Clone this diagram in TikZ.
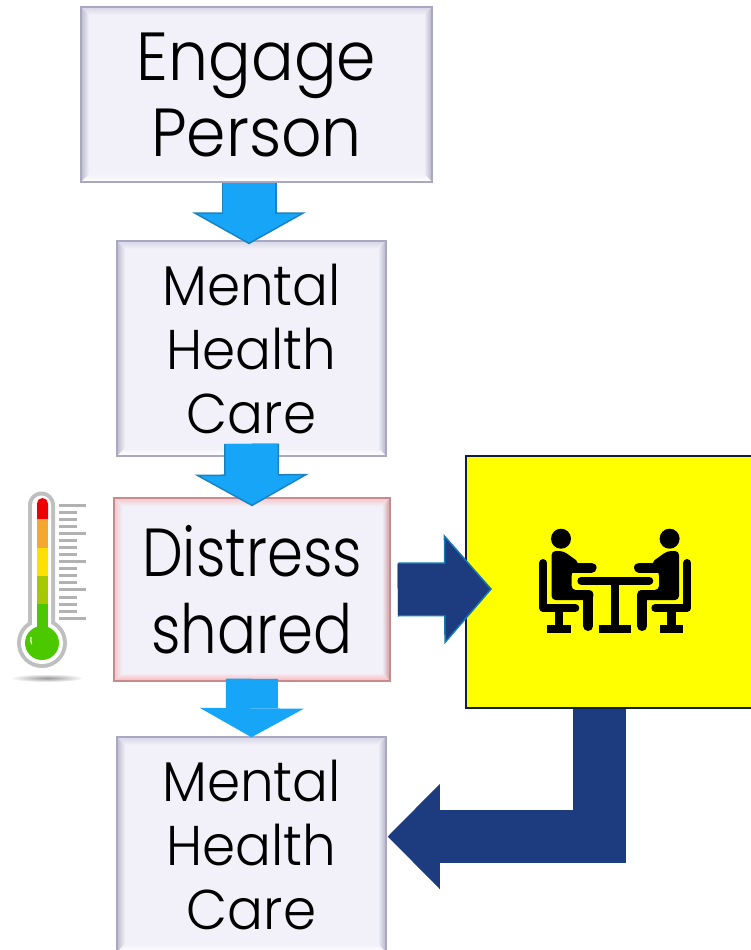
\documentclass[tikz,border=0pt]{standalone}
\usepackage{fontspec}
\setmainfont{Poppins Light}
\newfontfamily\engagefont[FakeStretch=0.93]{Poppins Light}
\newfontfamily\distressfont[FakeStretch=0.85]{Poppins Light}
\newfontfamily\carefont[FakeStretch=0.95]{Poppins Light}
\usetikzlibrary{arrows.meta}
\definecolor{lightblue}{HTML}{17A5F8}
\definecolor{lightedge}{HTML}{1A82C0}
\definecolor{darkblue}{HTML}{1D3C7F}
\definecolor{darkedge}{HTML}{1479B3}
\definecolor{boxfill}{HTML}{F2F0F8}
\definecolor{boxedge}{HTML}{A9A8C0}
\definecolor{boxtop}{HTML}{D6D5E6}
\definecolor{boxleft}{HTML}{BDBCCE}
\definecolor{boxright}{HTML}{B4B3C8}
\definecolor{boxbottom}{HTML}{FFFFFF}
\definecolor{redtop}{HTML}{F4C6CA}
\definecolor{redleft}{HTML}{F2C4C8}
\definecolor{redright}{HTML}{D09A9E}
\definecolor{redbottom}{HTML}{FFB4B4}
\definecolor{rededge}{HTML}{C88A8C}
\definecolor{meetingedge}{HTML}{101F40}
\definecolor{meetingfill}{HTML}{FFFF00}
\definecolor{thermored}{HTML}{EE0000}
\definecolor{thermoorange}{HTML}{F5A830}
\definecolor{thermoyellow}{HTML}{FFDF00}
\definecolor{thermolime}{HTML}{A6C800}
\definecolor{thermogreen}{HTML}{4CC800}
\tikzset{
  bevel/.style n args={4}{path picture={
    \coordinate (nw) at (path picture bounding box.north west);
    \coordinate (ne) at (path picture bounding box.north east);
    \coordinate (sw) at (path picture bounding box.south west);
    \coordinate (se) at (path picture bounding box.south east);
    \shade [top color=#1, bottom color=boxfill] (nw) -- (ne) -- ([shift={(-8,-8)}]ne) -- ([shift={(8,-8)}]nw) -- cycle;
    \shade [left color=#2, right color=boxfill] (nw) -- (sw) -- ([shift={(8,8)}]sw) -- ([shift={(8,-8)}]nw) -- cycle;
    \shade [right color=#3, left color=boxfill] (ne) -- (se) -- ([shift={(-8,8)}]se) -- ([shift={(-8,-8)}]ne) -- cycle;
    \shade [bottom color=#4, top color=boxfill] (sw) -- (se) -- ([shift={(-8,8)}]se) -- ([shift={(8,8)}]sw) -- cycle;
  }},
  graybox/.style={draw=boxedge, line width=1.5pt, fill=boxfill, align=center,
    bevel={boxtop}{boxleft}{boxright}{boxbottom}},
  redbox/.style={draw=rededge, line width=1.5pt, fill=boxfill, align=center,
    bevel={redtop}{redleft}{redright}{redbottom}},
  engagetext/.style={font=\engagefont\fontsize{68}{76}\selectfont},
  distresstext/.style={font=\distressfont\fontsize{68}{77}\selectfont},
  caretext/.style={font=\carefont\fontsize{56}{64}\selectfont},
  lightarrow/.style={draw=lightedge, line width=55pt,
    -{Triangle[width=114pt,length=32pt,line width=1.5pt,fill=lightblue]},
    postaction={draw=lightblue, line width=52pt, -, shorten >=30pt}},
  plainarrow/.style={draw=lightblue, line width=52pt,
    -{Triangle[width=104pt,length=29pt,line width=0pt,fill=lightblue]}},
  darkarrow/.style={draw=darkedge, line width=54pt,
    -{Triangle[width=110pt,length=48pt,line width=1.5pt,fill=darkblue]},
    postaction={draw=darkblue, line width=51pt, -, shorten >=46pt}},
  bentarrow/.style={draw=darkblue, line width=53pt, line join=miter,
    -{Triangle[width=105pt,length=52pt,line width=0pt,fill=darkblue]}},
  scaletick/.style={draw=gray!60, line width=3pt},
}
\begin{document}
\begin{tikzpicture}[x=1pt,y=1pt]
\tikzstyle{every node}+=[inner sep=0pt]
\clip [use as bounding box] (0,0) rectangle (751,-950);
\node (engage) [graybox, engagetext, minimum width=351pt, minimum height=175pt] at (256.5,-94.5) {Engage\\Person};
\node (mhone) [graybox, caretext, minimum width=269pt, minimum height=215pt] at (251.5,-348.5) {Mental\\Health\\Care};
\node (distress) [redbox, distresstext, minimum width=276pt, minimum height=183pt] at (252,-589.5) {Distress\\shared};
\node (mhtwo) [graybox, caretext, minimum width=269pt, minimum height=215pt] at (251.5,-844.5) {Mental\\Health\\Care};
\node (meeting) [draw=meetingedge, line width=2pt, fill=meetingfill, minimum width=298.6pt, minimum height=252pt] at (615.3,-582) {};
\draw [lightarrow] ([xshift=-7.5pt]engage.south) -- ([xshift=-2.5pt,yshift=-4pt]mhone.north);
\draw [lightarrow] ([yshift=13pt]mhone.south) -- ([yshift=-9pt]distress.north);
\draw [plainarrow] ([yshift=3pt]distress.south) -- ([yshift=-1pt]mhtwo.north);
\draw [darkarrow] ([xshift=7pt]distress.east) -- ([xshift=27pt,yshift=-7pt]meeting.west);
\draw [bentarrow] ([xshift=-16.3pt]meeting.south) -- (599,-836.5) -- ([xshift=1pt,yshift=8pt]mhtwo.east);
% thermometer
\fill [gray!50] (28,-505) arc (180:0:13.5) -- (55,-625) -- (28,-625) -- cycle;
\fill [gray!50] (42,-643) circle (25);
\fill [white] (32,-505) arc (180:0:9.5) -- (51,-628) -- (32,-628) -- cycle;
\fill [white] (42,-643) circle (21);
\fill [thermored] (37,-503.5) arc (180:0:5.5) -- (48,-519) -- (37,-519) -- cycle;
\fill [thermoorange] (37,-519) rectangle (48,-548);
\fill [thermoyellow] (37,-548) rectangle (48,-576);
\fill [thermolime] (37,-576) rectangle (48,-604);
\fill [thermogreen] (37,-604) rectangle (48,-632);
\fill [thermogreen] (42,-643) circle (17);
\draw [white, line width=1.2pt] (31,-637) arc (170:200:14);
\foreach \i in {0,...,16} {
  \pgfmathsetmacro{\tickend}{mod(\i,4)==0 ? 86 : 77}
  \draw [scaletick] (59,-505-7.08*\i) -- (\tickend,-505-7.08*\i);
}
\shade [inner color=gray!80, outer color=white] (47,-678) ellipse (37 and 4);
% two people at a table
\begin{scope}[xshift=615.3pt]
\foreach \side in {1,-1} {
\begin{scope}[xscale=\side]
\fill (-54.3,-538.7) circle (10);
\draw [line width=8pt, line cap=round, line join=round] (-72,-563) -- (-72,-608) -- (-40,-608);
\fill (-60.3,-612) rectangle (-52,-625);
\fill (-68,-625) rectangle (-44.3,-632.7);
\fill [rounded corners=4pt] (-63.7,-551) -- (-52,-551) -- (-36,-562.5) -- (-43.7,-572) -- (-43.7,-590) -- (-22,-590) -- (-22,-600) -- (-63.7,-600) -- cycle;
\draw [line width=10pt, line cap=round] (-44,-567.5) -- (-23.7,-567.5);
\draw [line width=10pt, line cap=round] (-27,-595) -- (-27,-626);
\end{scope}
}
\draw [line width=8pt, line cap=round] (-34,-580.7) -- (34,-580.7);
\fill (-4,-584) rectangle (4,-625);
\fill (-16,-625) rectangle (16,-633);
\end{scope}
\end{tikzpicture}
\end{document}
